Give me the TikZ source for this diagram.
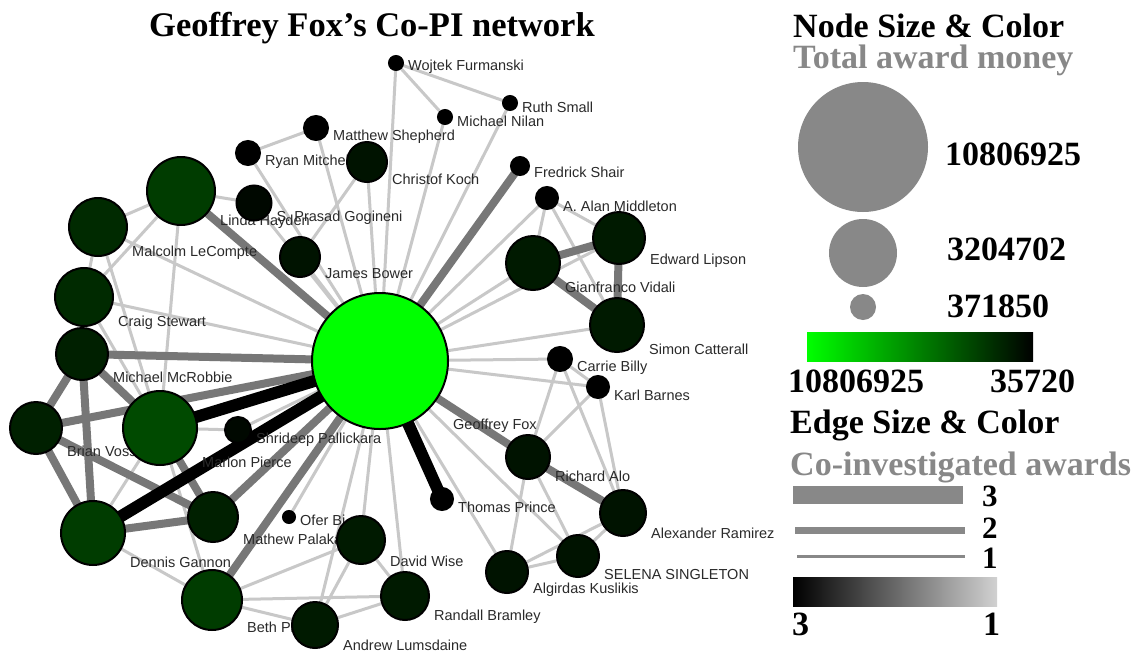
\documentclass[tikz,border=0pt]{standalone}
\usepackage{fontspec}
\setmainfont{Liberation Serif}
\newfontfamily\labfont{Liberation Sans}
\pgfdeclarelayer{bg}
\pgfdeclarelayer{edges}
\pgfdeclarelayer{labels}
\pgfsetlayers{bg,edges,labels,main}
\definecolor{hubgreen}{HTML}{00FF00}
\definecolor{labcol}{HTML}{2A2A2A}
\definecolor{eonecol}{HTML}{C8C8C8}
\definecolor{etwocol}{HTML}{777777}
\definecolor{leggray}{HTML}{888888}
\definecolor{gA}{HTML}{004A00}
\definecolor{gB}{HTML}{003C00}
\definecolor{gC}{HTML}{002A00}
\definecolor{gD}{HTML}{002000}
\definecolor{gE}{HTML}{001A00}
\definecolor{gF}{HTML}{001300}
\definecolor{gG}{HTML}{000800}
\definecolor{gH}{HTML}{000000}
\tikzset{
  pnode/.style={circle, draw=black, line width=2pt, inner sep=0pt, outer sep=0pt},
  plabel/.style={anchor=west, inner sep=0pt, font=\labfont\fontsize{14.5}{14.5}\selectfont, text=labcol},
  ew1/.style={draw=eonecol, line width=3pt},
  ew2/.style={draw=etwocol, line width=8pt},
  ew3/.style={draw=black, line width=12pt},
  legtitle/.style={anchor=base west, inner sep=0pt, font=\bfseries\fontsize{34}{34}\selectfont},
  legnum/.style={anchor=base west, inner sep=0pt, font=\bfseries\fontsize{34}{34}\selectfont},
  legsmall/.style={anchor=base west, inner sep=0pt, font=\bfseries\fontsize{31}{31}\selectfont},
  legdot/.style={circle, fill=leggray, inner sep=0pt, draw=none},
  legbar/.style={rectangle, fill=leggray, inner sep=0pt, draw=none, anchor=west},
}
\newcommand\pers[6]{%
  \node[pnode, fill=#5, minimum size=#4*2pt] (#1) at (#2,#3) {};
  \begin{pgfonlayer}{labels}
    \node[plabel] (#1-lab) at ({#2+#4+5},{#3+#4-3}) {#6};
  \end{pgfonlayer}}
\newcommand\ed[3]{\draw[#1] (#2.center) -- (#3.center);}
\begin{document}
\begin{tikzpicture}[x=1pt,y=-1pt]
\useasboundingbox (0,0) rectangle (1136,654);
\begin{pgfonlayer}{bg}
\fill[white] (0,0) rectangle (1136,654);
\end{pgfonlayer}
% title
\node[anchor=base, inner sep=0pt, font=\bfseries\fontsize{34.5}{34.5}\selectfont] (title) at (372,36) {Geoffrey Fox's Co-PI network};
% nodes
\pers{hub}{380}{361}{68}{hubgreen}{Geoffrey Fox}
\pers{wojtek}{396}{63}{7}{gH}{Wojtek Furmanski}
\pers{ruth}{510}{103}{7}{gH}{Ruth Small}
\pers{nilan}{445}{117}{7}{gH}{Michael Nilan}
\pers{shepherd}{316}{128}{12}{gH}{Matthew Shepherd}
\pers{ryan}{248}{153}{12}{gH}{Ryan Mitchell}
\pers{koch}{367}{162}{20}{gF}{Christof Koch}
\pers{shair}{520}{166}{9}{gH}{Fredrick Shair}
\pers{middleton}{547}{198}{11}{gH}{A. Alan Middleton}
\pers{hayden}{181}{191}{34}{gB}{Linda Hayden}
\pers{prasad}{254}{203}{17.5}{gG}{S. Prasad Gogineni}
\pers{bower}{300}{257}{20}{gF}{James Bower}
\pers{lecompte}{98}{227}{29}{gC}{Malcolm LeCompte}
\pers{stewart}{84}{297}{29}{gC}{Craig Stewart}
\pers{mcrobbie}{82}{354}{26}{gD}{Michael McRobbie}
\pers{voss}{36}{428}{26}{gD}{Brian Voss}
\pers{pierce}{160}{428}{37}{gA}{Marlon Pierce}
\pers{pallickara}{238}{430}{13}{gG}{Shrideep Pallickara}
\pers{gannon}{93}{533}{32}{gB}{Dennis Gannon}
\pers{palakal}{213}{517}{25}{gD}{Mathew Palakal}
\pers{ofer}{289}{517}{6}{gH}{Ofer Bi}
\pers{plale}{212}{600}{30}{gB}{Beth Plale}
\pers{wise}{361}{540}{24}{gE}{David Wise}
\pers{lumsdaine}{315}{625}{23}{gE}{Andrew Lumsdaine}
\pers{bramley}{405}{596}{24}{gE}{Randall Bramley}
\pers{prince}{442}{499}{11}{gH}{Thomas Prince}
\pers{alo}{528}{457}{22}{gF}{Richard Alo}
\pers{ramirez}{623}{513}{23}{gF}{Alexander Ramirez}
\pers{singleton}{578}{556}{21}{gF}{SELENA SINGLETON}
\pers{kuslikis}{507}{572}{21}{gF}{Algirdas Kuslikis}
\pers{billy}{560}{359}{12}{gH}{Carrie Billy}
\pers{barnes}{598}{387}{11}{gH}{Karl Barnes}
\pers{catterall}{617}{325}{27}{gE}{Simon Catterall}
\pers{lipson}{619}{238}{26}{gE}{Edward Lipson}
\pers{vidali}{533}{263}{27}{gE}{Gianfranco Vidali}
% edges
\begin{pgfonlayer}{edges}
\foreach \n in {wojtek,ruth,nilan,shepherd,ryan,koch,middleton,prasad,bower,lecompte,stewart,pallickara,ofer,wise,lumsdaine,bramley,singleton,kuslikis,billy,barnes,catterall,lipson,vidali}
  {\ed{ew1}{hub}{\n}}
\ed{ew1}{wojtek}{nilan}
\ed{ew1}{wojtek}{ruth}
\ed{ew1}{ryan}{shepherd}
\ed{ew1}{koch}{bower}
\ed{ew1}{hayden}{prasad}
\ed{ew1}{hayden}{lecompte}
\ed{ew1}{hayden}{stewart}
\ed{ew1}{hayden}{pierce}
\ed{ew1}{lecompte}{stewart}
\ed{ew1}{lecompte}{pierce}
\ed{ew1}{stewart}{pierce}
\ed{ew1}{gannon}{pierce}
\ed{ew1}{pierce}{pallickara}
\ed{ew1}{pierce}{plale}
\ed{ew1}{gannon}{plale}
\ed{ew1}{plale}{wise}
\ed{ew1}{plale}{bramley}
\ed{ew1}{plale}{lumsdaine}
\ed{ew1}{lumsdaine}{bramley}
\ed{ew1}{wise}{bramley}
\ed{ew1}{wise}{lumsdaine}
\ed{ew1}{middleton}{vidali}
\ed{ew1}{middleton}{lipson}
\ed{ew1}{middleton}{catterall}
\ed{ew1}{billy}{barnes}
\ed{ew1}{billy}{alo}
\ed{ew1}{billy}{ramirez}
\ed{ew1}{barnes}{alo}
\ed{ew1}{barnes}{ramirez}
\ed{ew1}{alo}{kuslikis}
\ed{ew1}{alo}{singleton}
\ed{ew1}{kuslikis}{singleton}
\ed{ew1}{kuslikis}{ramirez}
\ed{ew1}{singleton}{ramirez}
% weight 2
\ed{ew2}{hub}{shair}
\ed{ew2}{hub}{hayden}
\ed{ew2}{hub}{mcrobbie}
\ed{ew2}{hub}{voss}
\ed{ew2}{hub}{palakal}
\ed{ew2}{hub}{plale}
\ed{ew2}{hub}{alo}
\ed{ew2}{alo}{ramirez}
\ed{ew2}{mcrobbie}{voss}
\ed{ew2}{mcrobbie}{gannon}
\ed{ew2}{mcrobbie}{pierce}
\ed{ew2}{voss}{gannon}
\ed{ew2}{voss}{palakal}
\ed{ew2}{pierce}{palakal}
\ed{ew2}{gannon}{palakal}
\ed{ew2}{vidali}{lipson}
\ed{ew2}{vidali}{catterall}
\ed{ew2}{lipson}{catterall}
% weight 3
\ed{ew3}{hub}{pierce}
\ed{ew3}{hub}{gannon}
\ed{ew3}{hub}{prince}
\end{pgfonlayer}
% legend
\node[legtitle] (nsc) at (793,37) {Node Size \& Color};
\node[legtitle, text=leggray] (tam) at (793,68) {Total award money};
\node[legdot, minimum size=130pt] (ld1) at (863,147) {};
\node[legdot, minimum size=68pt] (ld2) at (863,253) {};
\node[legdot, minimum size=26pt] (ld3) at (863,307) {};
\node[legnum] (ln1) at (945,165) {10806925};
\node[legnum] (ln2) at (947,260) {3204702};
\node[legnum] (ln3) at (947,317) {371850};
\node[rectangle, inner sep=0pt, anchor=north west, minimum width=226pt, minimum height=29pt, left color=hubgreen, right color=black] (gbar) at (807,332) {};
\node[legnum] (gl1) at (788,392) {10806925};
\node[legnum] (gl2) at (990,392) {35720};
\node[legtitle] (esc) at (790,433) {Edge Size \& Color};
\node[legtitle, text=leggray] (cia) at (790,475) {Co-investigated awards};
\node[legbar, minimum width=170pt, minimum height=18pt] (eb3) at (793,495) {};
\node[legbar, minimum width=170pt, minimum height=7pt] (eb2) at (795,530) {};
\node[legbar, minimum width=168pt, minimum height=3pt] (eb1) at (797,556) {};
\node[legsmall] (en3) at (982,506) {3};
\node[legsmall] (en2) at (982,538) {2};
\node[legsmall] (en1) at (982,568) {1};
\node[rectangle, inner sep=0pt, anchor=north west, minimum width=204pt, minimum height=29pt, left color=black, right color=black!18] (ebar) at (793,577) {};
\node[legnum] (el3) at (792,635) {3};
\node[legnum] (el1) at (983,635) {1};
\end{tikzpicture}
\end{document}
